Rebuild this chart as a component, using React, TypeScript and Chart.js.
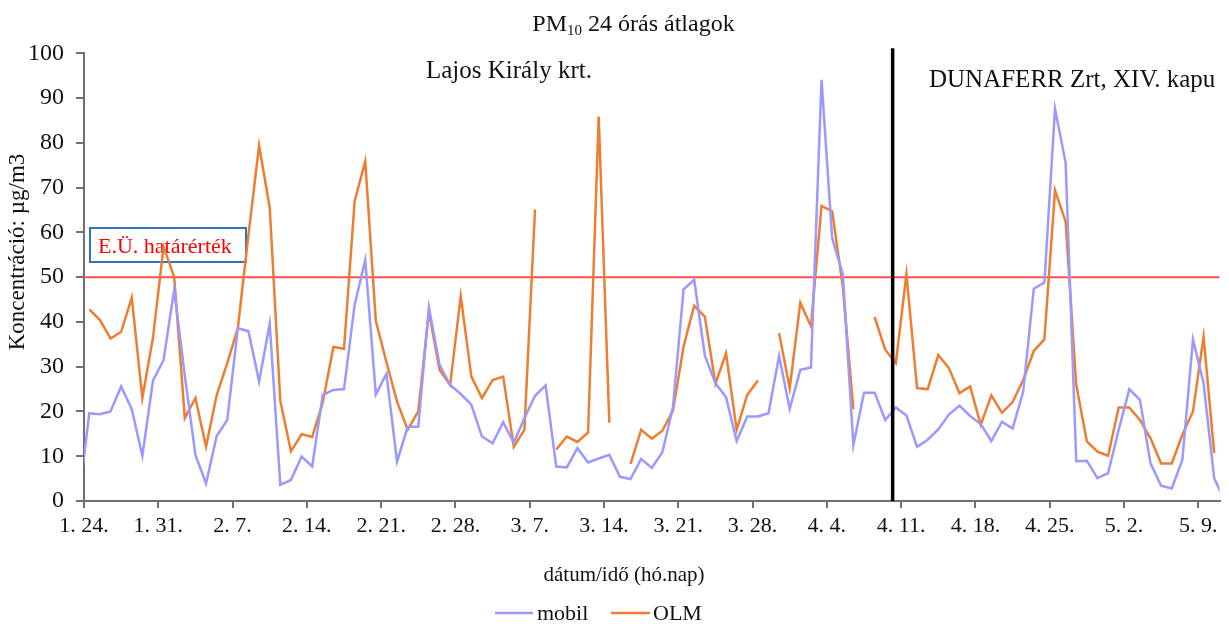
import React, { useEffect, useRef } from 'react';
import { Chart, registerables } from 'chart.js';

Chart.register(...registerables);

const FONT = "'Liberation Serif', 'Times New Roman', serif";

// x axis: days counted from 1. 24. (tick every 7 days)
const xTickDays = [0, 7, 14, 21, 28, 35, 42, 49, 56, 63, 70, 77, 84, 91, 98, 105];
const xTickLabels = ['1. 24.', '1. 31.', '2. 7.', '2. 14.', '2. 21.', '2. 28.', '3. 7.', '3. 14.', '3. 21.', '3. 28.', '4. 4.', '4. 11.', '4. 18.', '4. 25.', '5. 2.', '5. 9.'];
const xMin = 0;
const xMax = 107;
// first 24h mean is plotted at 1. 23. noon; one value per day
const firstSampleDay = -0.5;

const mobil = [
  0.3, 19.6, 19.4, 20.0, 25.6, 20.5, 10.1, 26.9, 31.5, 47.2,
  28.0, 10.3, 3.9, 14.5, 18.1, 38.6, 37.9, 26.7, 39.6, 3.6,
  4.7, 9.9, 7.7, 23.7, 24.8, 25.0, 43.8, 53.8, 23.8, 28.4,
  8.8, 16.6, 16.6, 43.3, 30.5, 25.9, 23.9, 21.5, 14.4, 12.9,
  17.6, 13.0, 18.5, 23.5, 25.8, 7.7, 7.5, 11.8, 8.6, 9.5,
  10.3, 5.4, 4.9, 9.4, 7.4, 10.9, 21.0, 47.3, 49.4, 32.5,
  26.3, 23.2, 13.4, 18.9, 18.9, 19.6, 32.4, 20.6, 29.3, 29.8,
  94.1, 58.7, 50.7, 12.5, 24.2, 24.2, 18.1, 20.9, 19.1, 12.1,
  13.7, 16.0, 19.3, 21.3, 19.0, 17.2, 13.4, 17.7, 16.2, 24.4,
  47.4, 48.8, 87.6, 75.6, 8.9, 9.0, 5.1, 6.2, 15.9, 25.0,
  22.6, 8.4, 3.4, 2.8, 9.2, 36.1, 26.3, 5.1, 0.0,
];

const olm = [
  null, 42.8, 40.4, 36.3, 37.8, 45.4, 23.0, 36.5, 56.8, 50.0,
  18.5, 23.0, 12.1, 23.6, 30.8, 38.7, 59.5, 79.4, 65.5, 22.3,
  11.1, 14.9, 14.3, 22.0, 34.4, 34.0, 66.9, 75.9, 40.2, 31.0,
  22.2, 15.9, 20.0, 42.3, 29.3, 25.9, 45.8, 27.8, 23.0, 27.0,
  27.8, 12.1, 15.9, 65.1, null, 11.5, 14.4, 13.2, 15.3, 85.9,
  17.5, null, 8.3, 15.9, 13.9, 15.7, 20.2, 34.5, 43.6, 41.2,
  26.2, 33.0, 15.9, 23.7, 26.9, null, 37.5, 25.2, 44.3, 39.0,
  65.9, 64.7, 48.0, 20.5, null, 41.1, 33.8, 30.8, 50.7, 25.2,
  25.0, 32.6, 29.7, 24.1, 25.6, 17.0, 23.6, 19.7, 22.1, 27.0,
  33.5, 36.1, 69.4, 62.4, 25.9, 13.3, 11.0, 10.1, 20.9, 20.9,
  18.1, 14.0, 8.4, 8.4, 14.8, 20.0, 36.7, 10.7, null,
];

const limitValue = 50; // E.Ü. határérték
const siteSwitchDay = 76.2; // Lajos Király krt. -> DUNAFERR Zrt, XIV. kapu

const yMin = 0;
const yMax = 100;
const yStep = 10;

const MOBIL_COLOR = '#9999ff';
const OLM_COLOR = '#ed7d31';
const AXIS_COLOR = '#707070';
const TEXT_COLOR = '#111111';

const toPoints = (arr: (number | null)[]) =>
  arr.map((v, i) => ({ x: firstSampleDay + i, y: v }));

const overlayPlugin = {
  id: 'overlay',
  beforeDatasetsDraw(chart: any) {
    const { ctx, chartArea, scales } = chart;
    const y = scales.y.getPixelForValue(limitValue);
    ctx.save();
    ctx.strokeStyle = '#ff4f4f';
    ctx.lineWidth = 2;
    ctx.beginPath();
    ctx.moveTo(chartArea.left, y);
    ctx.lineTo(chartArea.right, y);
    ctx.stroke();

    // Limit label box (lines pass over it)
    ctx.strokeStyle = '#2e75b6';
    ctx.lineWidth = 2;
    ctx.strokeRect(90, 228, 156, 34);
    ctx.fillStyle = '#ff0000';
    ctx.font = `22px ${FONT}`;
    ctx.textAlign = 'left';
    ctx.textBaseline = 'alphabetic';
    ctx.fillText('E.Ü. határérték', 98, 253);
    ctx.restore();
  },
  afterDatasetsDraw(chart: any) {
    const { ctx, chartArea, scales } = chart;
    const x = scales.x.getPixelForValue(siteSwitchDay);
    ctx.save();
    ctx.strokeStyle = '#000000';
    ctx.lineWidth = 3.5;
    ctx.beginPath();
    ctx.moveTo(x, chartArea.top - 5);
    ctx.lineTo(x, chartArea.bottom);
    ctx.stroke();
    ctx.restore();
  },
  afterDraw(chart: any) {
    const { ctx } = chart;
    ctx.save();
    ctx.fillStyle = TEXT_COLOR;
    ctx.textBaseline = 'alphabetic';
    ctx.textAlign = 'left';

    // Title with subscript
    const big = `24px ${FONT}`;
    const small = `15px ${FONT}`;
    const t1 = 'PM';
    const t2 = '10';
    const t3 = ' 24 órás átlagok';
    ctx.font = big;
    const w1 = ctx.measureText(t1).width;
    const w3 = ctx.measureText(t3).width;
    ctx.font = small;
    const w2 = ctx.measureText(t2).width;
    let tx = 633.5 - (w1 + w2 + w3) / 2;
    const ty = 31;
    ctx.font = big;
    ctx.fillText(t1, tx, ty);
    tx += w1;
    ctx.font = small;
    ctx.fillText(t2, tx, ty + 4);
    tx += w2;
    ctx.font = big;
    ctx.fillText(t3, tx, ty);

    // Site labels
    ctx.font = `25px ${FONT}`;
    ctx.fillText('Lajos Király krt.', 426, 78);
    ctx.fillText('DUNAFERR Zrt, XIV. kapu', 929, 87);

    // Axis titles
    ctx.fillStyle = TEXT_COLOR;
    ctx.font = `21px ${FONT}`;
    ctx.textAlign = 'center';
    ctx.fillText('dátum/idő (hó.nap)', 624, 581);

    ctx.save();
    ctx.translate(24, 252);
    ctx.rotate(-Math.PI / 2);
    ctx.font = `23px ${FONT}`;
    ctx.fillText('Koncentráció: µg/m3', 0, 0);
    ctx.restore();

    // Legend
    ctx.textAlign = 'left';
    ctx.font = `22px ${FONT}`;
    ctx.lineWidth = 2.5;
    ctx.strokeStyle = MOBIL_COLOR;
    ctx.beginPath();
    ctx.moveTo(495, 613);
    ctx.lineTo(533, 613);
    ctx.stroke();
    ctx.fillText('mobil', 537, 620);
    ctx.strokeStyle = OLM_COLOR;
    ctx.beginPath();
    ctx.moveTo(611, 613);
    ctx.lineTo(650, 613);
    ctx.stroke();
    ctx.fillText('OLM', 653, 620);

    ctx.restore();
  },
};

export default function App() {
  const canvasRef = useRef<HTMLCanvasElement | null>(null);

  useEffect(() => {
    document.body.style.margin = '0';
    const canvas = canvasRef.current;
    if (!canvas) return;
    const chart = new Chart(canvas, {
      type: 'line',
      data: {
        datasets: [
          {
            label: 'mobil',
            data: toPoints(mobil),
            borderColor: MOBIL_COLOR,
            backgroundColor: MOBIL_COLOR,
            borderWidth: 2.5,
            pointRadius: 0,
            tension: 0,
            spanGaps: false,
          },
          {
            label: 'OLM',
            data: toPoints(olm),
            borderColor: OLM_COLOR,
            backgroundColor: OLM_COLOR,
            borderWidth: 2.5,
            pointRadius: 0,
            tension: 0,
            spanGaps: false,
          },
        ],
      },
      options: {
        responsive: false,
        animation: false,
        events: [],
        layout: { padding: { left: 0, right: 9.5, top: 53.3, bottom: 0 } },
        plugins: {
          legend: { display: false },
          title: { display: false },
          tooltip: { enabled: false },
        },
        scales: {
          x: {
            type: 'linear',
            min: xMin,
            max: xMax,
            afterBuildTicks: (scale: any) => {
              scale.ticks = xTickDays.map((v) => ({ value: v }));
            },
            afterFit: (scale: any) => {
              scale.height = 123;
            },
            ticks: {
              autoSkip: false,
              maxRotation: 0,
              minRotation: 0,
              padding: 5,
              color: TEXT_COLOR,
              font: { family: FONT, size: 22 },
              callback: (_v: any, i: number) => xTickLabels[i],
            },
            grid: {
              drawOnChartArea: false,
              drawTicks: true,
              tickLength: 7,
              color: AXIS_COLOR,
              lineWidth: 2,
            },
            border: { display: true, color: AXIS_COLOR, width: 2 },
          },
          y: {
            min: yMin,
            max: yMax,
            afterFit: (scale: any) => {
              scale.width = 84;
            },
            ticks: {
              stepSize: yStep,
              padding: 12,
              color: TEXT_COLOR,
              font: { family: FONT, size: 24 },
            },
            grid: {
              drawOnChartArea: false,
              drawTicks: true,
              tickLength: 8,
              color: AXIS_COLOR,
              lineWidth: 2,
            },
            border: { display: true, color: AXIS_COLOR, width: 2 },
          },
        },
      } as any,
      plugins: [overlayPlugin],
    });
    return () => chart.destroy();
  }, []);

  return (
    <div style={{ position: 'absolute', left: 0, top: 0, width: 1229, height: 624, background: '#ffffff' }}>
      <canvas ref={canvasRef} width={1229} height={624} style={{ display: 'block' }} />
    </div>
  );
}
